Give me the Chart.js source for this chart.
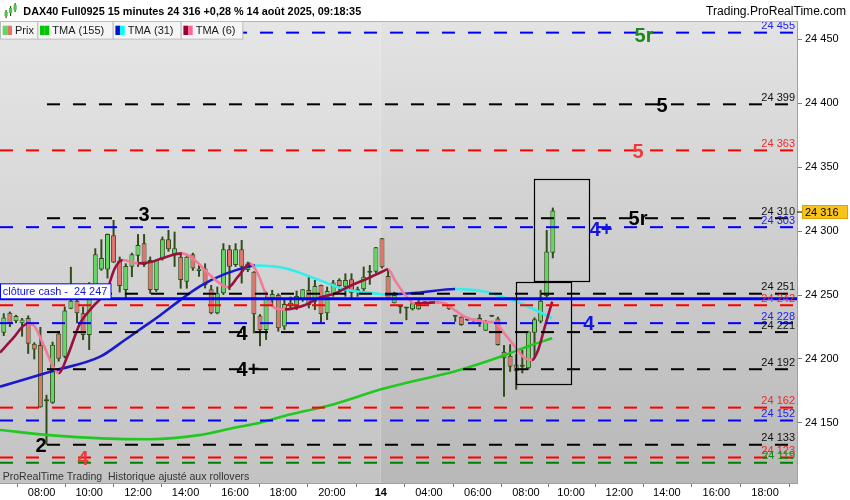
<!DOCTYPE html>
<html><head><meta charset="utf-8">
<script src="https://cdn.jsdelivr.net/npm/chart.js@4.4.1/dist/chart.umd.min.js"></script>
<style>html,body{margin:0;padding:0;background:#fff;overflow:hidden}</style>
</head><body>
<canvas id="c" width="850" height="500" style="display:block;width:850px;height:500px"></canvas>
<script>
// ---------- DATA ----------
const opens = [
24220.6,24236.2,24229.5,24227.9,24232,24212,24211,24167,24165.9,24220,
24201.8,24239.3,24245.6,24235.7,24218.7,24251.8,24270,24270,24296.6,24277,
24253.9,24272.1,24280.7,24290.4,24277.3,24253.9,24278.6,24293.5,24282,24279.9,
24260.4,24281.8,24268.8,24270.8,24254.4,24235.7,24251.3,24285.7,24273.4,24285.7,
24269.5,24268.2,24234,24222.7,24247.4,24250,24225.3,24241.4,24240.4,24246.1,
24253.9,24244.8,24257.8,24235.7,24250,24261.7,24256.5,24262.3,24253,24254.4,
24267.3,24268.2,24294.3,24264.9,24243.5,24240.5,24239.5,24238.8,24238.8,24243.5,
24243.5,24244,24243,24241.4,24233,24233,24230,24230.4,24232,24222.1,
24233,24231.7,24205.7,24202.5,24195.7,24194,24192.8,24220.6,24229.2,24249.3,24283.1];
const highs = [
24235.7,24237,24234.5,24232,24234,24213,24225,24172,24213.5,24222,
24241,24272,24254,24240.9,24260,24286.5,24293.5,24298,24308.6,24280,
24274.7,24283,24297.6,24297.6,24280,24278,24295.6,24300.8,24299.5,24282.5,
24281.2,24283,24273.4,24274.7,24257.8,24256.5,24290.4,24289,24290.4,24293,
24276,24268.5,24235,24252.6,24254,24251.3,24247.4,24248.7,24253.4,24254.6,
24265.6,24261.7,24258,24256.5,24261.7,24263,24266.9,24266.9,24256.5,24272.2,
24273.4,24287.5,24294.5,24269.5,24252.5,24241.5,24240.2,24244,24246,24245,
24244.5,24245,24244,24241.6,24233.5,24233.2,24230.6,24231,24235,24230.5,
24233.6,24233,24210.9,24211.5,24203.7,24207,24221.6,24232.5,24254,24300.8,24318.3];
const lows = [
24218,24225,24228,24217.5,24204,24199.7,24162,24133,24165,24198,
24200.5,24239,24227.9,24214.8,24207,24250,24269,24263,24275,24252,
24247.4,24264,24272,24272,24251,24252.5,24277,24283.9,24272,24255,
24255,24269,24264.3,24255.2,24235,24235,24250,24253.9,24272,24259,
24268,24220,24210,24214.9,24240.9,24221.4,24222.7,24239.6,24238.3,24244.8,
24239.6,24238.3,24227.9,24230.5,24248.7,24252.6,24248.7,24246.1,24248.7,24251.3,
24258,24267,24270.8,24246,24243.5,24235.6,24230.4,24238,24238.5,24243,
24243,24243.5,24242.5,24238.5,24229,24226,24229.8,24229,24225.2,24222,
24232.8,24210.5,24170.5,24190,24176,24188.8,24191.5,24200.6,24228,24248,24278.7];
const closes = [
24232.5,24227.9,24233.6,24230.9,24212,24207.5,24162.2,24167.5,24211.2,24200.2,
24237.8,24245.6,24235.7,24218.7,24251.8,24281.8,24279,24297.6,24275.3,24257,
24272.7,24281.8,24289,24273.4,24253.9,24277.3,24293.5,24285.7,24286.5,24261.7,
24279.9,24270.8,24270.8,24257.8,24235.7,24251.3,24285.7,24272.1,24285.7,24272.1,
24274.7,24235,24222.5,24247.4,24250.8,24224,24243,24244,24249.2,24254.4,
24242.2,24257,24235.2,24253.1,24259.7,24257,24261.7,24251.8,24254.4,24264.3,
24268,24287.3,24271.6,24247,24250,24241,24240,24243.5,24244.8,24244.3,
24244,24244.5,24243.5,24238.8,24233.4,24226.5,24230.4,24230,24227.5,24229.1,
24233.4,24210.9,24200.5,24194,24190.5,24194.6,24221.4,24231,24245.6,24283.9,24316];

// TMA (155)
const tmaSlowIdx = [-0.62, 8, 16, 24, 32, 38, 42, 46, 54, 62, 68, 74, 82, 86, 89.9];
const tmaSlowVal = [24144.5,24140.3,24138.0,24137.3,24140.5,24146.5,24150.2,24155.5,24164.5,24176.5,24183.6,24190.5,24202.8,24210.0,24216.2];
// TMA (31)
const tmaMidIdx = [-0.62, 7.6, 15.8, 19.9, 22.3, 25.6, 28.9, 32.2, 36.3, 40.4, 41.2, 46.1, 51.0, 55.9, 60.9, 62.5, 67.9, 74.0, 78.9, 83.3, 85.4, 89.9];
const tmaMidVal = [24178.4,24190.1,24201.8,24215,24223,24234,24246,24257,24266.5,24272.5,24273,24270.9,24263,24254.5,24251.3,24250.5,24251.8,24254.7,24252.6,24246.1,24242.2,24231.8];
// TMA (6)
const tmaFastIdx = [-0.62,1.5,3.8,4.8,6.4,8.1,9.0,10.4,12.5,14.6,16.9,18.2,19.5,22.0,24.3,25.9,29.2,31.3,33.5,35.8,36.8,38.4,40.4,41.7,42.8,44.5,46.1,49.4,51.5,54.3,57.1,59.7,62.0,63.0,64.1,65.8,67.4,69.5,70.7,72.3,73.5,75.6,78.9,80.5,82.2,83.8,85.4,86.6,87.6,88.7,89.9];
const tmaFastVal = [24205,24216.1,24227.3,24226.6,24212.2,24194,24188.8,24201.8,24227.9,24240.9,24253.9,24270.8,24277.3,24274.7,24276,24278.6,24282.5,24277.3,24266.9,24257.8,24256,24264.3,24274.5,24266,24252.6,24239.6,24238.8,24242.2,24247.4,24251.3,24257.8,24263,24268.2,24270.1,24261.7,24250,24243.5,24243.8,24244.2,24243.5,24239.6,24233,24229.1,24228.5,24219,24209.7,24200.6,24199.3,24207.1,24225.3,24244.9];

// horizontal levels
const levelVals  = [24455, 24399, 24363, 24310, 24303, 24251, 24242, 24228, 24221, 24192, 24162, 24152, 24133, 24123, 24119];
const levelKinds = ['blue','black','red','black','blue','black','red','blue','black','black','red','blue','black','red','green'];
const cashClose = 24247;
const lastPrice = 24316;

// level markers
const markText = ['5r','5','5','5r','4+','4','3','4','4+','2','4'];
const markIdx  = [104.95,107.9,103.97,103.97,97.9,95.9,22.98,39.05,40.03,6.1,12.98];
const markVal  = [24453,24399,24363,24310,24301.5,24228,24313.3,24220.3,24192,24133,24123];
const markKind = ['green','black','red','black','blue','blue','black','black','black','black','red'];

// zone rectangles
const boxIdx0 = [86.97, 84.02];
const boxIdx1 = [96.05, 93.1];
const boxTop  = [24340.4, 24260.4];
const boxBot  = [24260.7, 24181.0];

// axis ticks
const xTickPos = [6.2, 14.0, 22.0, 29.8, 37.9, 45.8, 53.8, 61.8, 69.7, 77.7, 85.6, 93.0, 100.9, 108.7, 116.8, 124.8];
const xTickLabels = ['08:00','10:00','12:00','14:00','16:00','18:00','20:00','14','04:00','06:00','08:00','10:00','12:00','14:00','16:00','18:00'];
const yTickVals = [24150, 24200, 24250, 24300, 24350, 24400, 24450];

// ---------- STYLE ----------
const FONT = '"Liberation Sans", Arial, Helvetica, sans-serif';
Chart.defaults.font.family = FONT;
const UP = '#62d862', DOWN = '#e4736b', EDGE = '#2f4d1b';
const LINE_COL = {blue:'#0000ff', black:'#000000', red:'#ff0000', green:'#008000'};
const LABEL_COL = {blue:'#2222ee', black:'#111111', red:'#ee2a2a', green:'#108a10'};
const MARK_COL = {blue:'#1515e0', black:'#000000', red:'#ee3a3a', green:'#1b8a1b'};
const X_MIN = -0.62, X_MAX = 130.03, Y_MIN = 24103.1, Y_MAX = 24464.1;

const fmt = v => String(Math.round(v)).replace(/(\d)(?=(\d{3})+$)/g, '$1 ');

// ---------- DATASETS ----------
const isUp = closes.map((c,i) => c >= opens[i]);
const datasets = [];
datasets.push({type:'bar', label:'wick', data: highs.map((h,i)=>({x:i, y:[lows[i], h]})),
  backgroundColor: EDGE, borderWidth:0, barThickness:2, grouped:false, inflateAmount:0, order:30});
datasets.push({type:'bar', label:'body', data: opens.map((o,i)=>({x:i, y:[o, closes[i]]})),
  backgroundColor: isUp.map(u => u ? UP : DOWN), borderColor: EDGE, borderWidth:1, borderSkipped:false,
  barThickness:5, grouped:false, inflateAmount:0, minBarLength:2, order:29});

function tmaDS(xs, ys, cUp, cDown, order) {
  return {type:'line', data: xs.map((x,i)=>({x, y:ys[i]})), borderColor: cUp, borderWidth: 2.6,
    pointRadius:0, fill:false, tension:0.4, cubicInterpolationMode:'monotone', order,
    segment: {borderColor: c => (c.p1.parsed.y >= c.p0.parsed.y ? cUp : cDown)}};
}
datasets.push(tmaDS(tmaSlowIdx, tmaSlowVal, '#22c822', '#22c822', 12));
datasets.push(tmaDS(tmaMidIdx, tmaMidVal, '#1a1acc', '#2eeeee', 11));
datasets.push(tmaDS(tmaFastIdx, tmaFastVal, '#9a1040', '#f27a9a', 10));

levelVals.forEach((v,i) => {
  const start = levelKinds[i] === 'black' ? 7.08 : X_MIN;
  datasets.push({type:'line', data:[{x:start, y:v},{x:X_MAX, y:v}], borderColor: LINE_COL[levelKinds[i]],
    borderWidth:2, borderDash:[13,13], pointRadius:0, fill:false, order:3});
});
datasets.push({type:'line', data:[{x:X_MIN, y:cashClose},{x:X_MAX, y:cashClose}], borderColor:'#0000ff',
  borderWidth:3, pointRadius:0, fill:false, order:1});

// ---------- PLUGINS ----------
function fitFont(ctx, text, weight, target) {
  ctx.font = weight + ' 10px ' + FONT;
  const w = ctx.measureText(text).width;
  return weight + ' ' + (10 * target / w).toFixed(2) + 'px ' + FONT;
}

const bgPlugin = {
  id:'bg',
  beforeDraw(chart) {
    const ctx = chart.ctx, a = chart.chartArea, xs = chart.scales.x;
    ctx.save();
    ctx.fillStyle = '#ffffff'; ctx.fillRect(0,0,chart.width,chart.height);
    const xb = xs.getPixelForValue(xTickPos[7]);
    let g = ctx.createLinearGradient(0,a.top,0,a.bottom);
    g.addColorStop(0,'#e6e6e6'); g.addColorStop(1,'#c3c3c3');
    ctx.fillStyle = g; ctx.fillRect(a.left, a.top, xb - a.left, a.bottom - a.top);
    g = ctx.createLinearGradient(0,a.top,0,a.bottom);
    g.addColorStop(0,'#e3e3e3'); g.addColorStop(1,'#b8b8b8');
    ctx.fillStyle = g; ctx.fillRect(xb, a.top, a.right - xb, a.bottom - a.top);
    ctx.restore();
  }
};

const overlayPlugin = {
  id:'overlay',
  afterDatasetsDraw(chart) {
    const ctx = chart.ctx, xs = chart.scales.x, ys = chart.scales.y, a = chart.chartArea;
    ctx.save();
    // zone rectangles
    ctx.strokeStyle = '#000'; ctx.lineWidth = 1.2;
    boxIdx0.forEach((x0,i) => {
      const px0 = xs.getPixelForValue(x0), px1 = xs.getPixelForValue(boxIdx1[i]);
      const py0 = ys.getPixelForValue(boxTop[i]), py1 = ys.getPixelForValue(boxBot[i]);
      ctx.strokeRect(Math.round(px0)+0.5, Math.round(py0)+0.5, Math.round(px1-px0), Math.round(py1-py0));
    });
    // level value labels at right
    ctx.font = '11px ' + FONT; ctx.textAlign = 'right'; ctx.textBaseline = 'middle';
    levelVals.forEach((v,i) => {
      ctx.fillStyle = LABEL_COL[levelKinds[i]];
      ctx.fillText(fmt(v), a.right - 2, ys.getPixelForValue(v) - 6.3);
    });
    // level markers
    ctx.font = 'bold 20px ' + FONT; ctx.textAlign = 'center'; ctx.textBaseline = 'alphabetic';
    markText.forEach((t,i) => {
      ctx.fillStyle = MARK_COL[markKind[i]];
      ctx.fillText(t, xs.getPixelForValue(markIdx[i]), ys.getPixelForValue(markVal[i]) + 7.2);
    });
    // cash close label
    const cy = ys.getPixelForValue(cashClose);
    ctx.fillStyle = '#ffffff'; ctx.fillRect(0.5, cy - 15, 110.5, 15);
    ctx.strokeStyle = '#0000ff'; ctx.lineWidth = 1; ctx.strokeRect(0.5, cy - 15, 110.5, 15);
    const ct = 'clôture cash -  ' + fmt(cashClose);
    ctx.font = fitFont(ctx, ct, 'normal', 104.5);
    ctx.fillStyle = '#1212dd'; ctx.textAlign = 'left'; ctx.textBaseline = 'middle';
    ctx.fillText(ct, 2.8, cy - 7.2);
    // bottom note
    const note = 'ProRealTime Trading  Historique ajusté aux rollovers';
    ctx.font = fitFont(ctx, note, 'normal', 247);
    ctx.fillStyle = '#333333';
    ctx.fillText(note, 2.7, 477);
    ctx.restore();
  },
  afterDraw(chart) {
    const ctx = chart.ctx, ys = chart.scales.y, a = chart.chartArea;
    ctx.save();
    // header
    ctx.fillStyle = '#ffffff'; ctx.fillRect(0, 0, chart.width, a.top);
    ctx.strokeStyle = '#b4b4b4'; ctx.lineWidth = 1;
    ctx.beginPath(); ctx.moveTo(0, a.top + 0.5); ctx.lineTo(a.right, a.top + 0.5); ctx.stroke();
    // icon
    const icon = [[6,10,18,12,16],[10.5,6,16,8,13],[15,3,12,5,10]];
    icon.forEach(([x,wt,wb,bt,bb]) => {
      ctx.fillStyle = '#2f4d1b'; ctx.fillRect(x-0.5, wt, 1.2, wb-wt);
      ctx.fillStyle = '#44cc44'; ctx.fillRect(x-1.5, bt, 3.2, bb-bt);
    });
    const title = 'DAX40 Full0925 15 minutes 24 316 +0,28 % 14 août 2025, 09:18:35';
    ctx.font = fitFont(ctx, title, 'bold', 338);
    ctx.fillStyle = '#000'; ctx.textAlign = 'left'; ctx.textBaseline = 'middle';
    ctx.fillText(title, 23.3, 11.5);
    const site = 'Trading.ProRealTime.com';
    ctx.font = fitFont(ctx, site, 'normal', 140);
    ctx.textAlign = 'right'; ctx.fillText(site, 846, 11.5);
    // legend boxes
    const lg = [[0,37.3,'Prix',UP,DOWN],[37.3,112.7,'TMA (155)','#00c800','#00c800'],
                [112.7,180.7,'TMA (31)','#0010d0','#00ffff'],[180.7,242.3,'TMA (6)','#990033','#ff6690']];
    lg.forEach(([x0,x1,t,c1,c2]) => {
      ctx.fillStyle = '#f5f5f5'; ctx.fillRect(x0+0.5, a.top+0.5, x1-x0, 17.6);
      ctx.strokeStyle = '#bdbdbd'; ctx.strokeRect(x0+0.5, a.top+0.5, x1-x0, 17.6);
      ctx.fillStyle = c1; ctx.fillRect(x0+2.7, 25.7, 4.7, 9.3);
      ctx.fillStyle = c2; ctx.fillRect(x0+7.4, 25.7, 4.6, 9.3);
      ctx.fillStyle = '#1a1a1a'; ctx.font = '11px ' + FONT; ctx.textAlign = 'left';
      ctx.fillText(t, x0 + 15, 30.7);
    });
    // last price tag
    const py = ys.getPixelForValue(lastPrice) + 1.5;
    ctx.strokeStyle = '#000'; ctx.beginPath(); ctx.moveTo(a.right, py); ctx.lineTo(a.right + 5, py); ctx.stroke();
    ctx.fillStyle = '#f8c41c'; ctx.fillRect(802.5, py - 6.5, 45, 13);
    ctx.strokeStyle = '#d9a300'; ctx.strokeRect(802.5, py - 6.5, 45, 13);
    ctx.fillStyle = '#000'; ctx.font = '11px ' + FONT; ctx.textAlign = 'left';
    ctx.fillText(fmt(lastPrice), 805, py + 0.5);
    ctx.restore();
  }
};

new Chart(document.getElementById('c'), {
  type: 'bar',
  data: { datasets },
  options: {
    responsive: false, animation: false, events: [],
    layout: { padding: { top: 21, left: 0, right: 0, bottom: 0 } },
    plugins: { legend: { display: false }, tooltip: { enabled: false } },
    scales: {
      x: { type:'linear', min:X_MIN, max:X_MAX, bounds:'data', offset:false, position:'bottom',
        grid: { display:true, drawOnChartArea:false, drawTicks:true, tickLength:4, color:'#7a7a7a' },
        border: { display:true, color:'#a0a0a0' },
        afterBuildTicks: s => { s.ticks = xTickPos.map(v => ({value:v})); },
        afterFit: s => { s.height = 17; },
        ticks: { autoSkip:false, maxRotation:0, minRotation:0, padding:-1, color:'#000',
          font: c => ({ size: 11, weight: (c.tick && c.tick.label === '14') ? 'bold' : 'normal' }),
          callback: (v, i) => xTickLabels[i] }
      },
      y: { type:'linear', position:'right', min:Y_MIN, max:Y_MAX, bounds:'data',
        grid: { display:true, drawOnChartArea:false, drawTicks:true, tickLength:5, color:'#7a7a7a' },
        border: { display:true, color:'#a0a0a0' },
        afterBuildTicks: s => { s.ticks = yTickVals.map(v => ({value:v})); },
        afterFit: s => { s.width = 53; },
        ticks: { padding:3, color:'#000', font:{ size:11 }, callback: v => fmt(v) }
      }
    }
  },
  plugins: [bgPlugin, overlayPlugin]
});
</script>
</body></html>
